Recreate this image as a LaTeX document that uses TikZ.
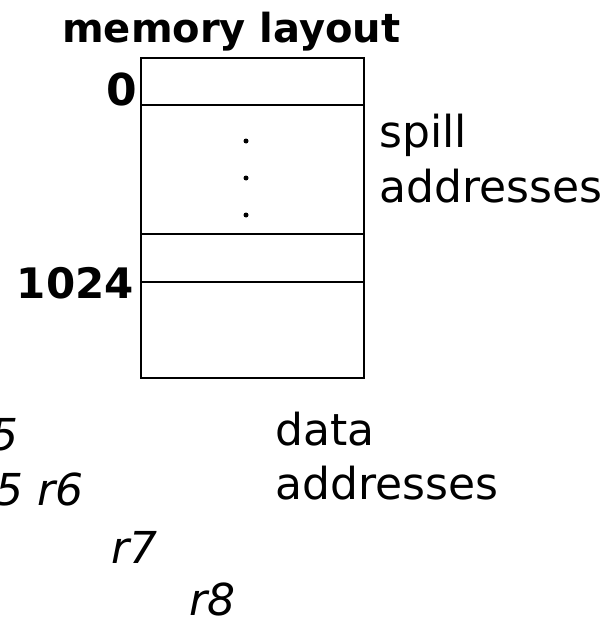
\documentclass[tikz,border=0pt]{standalone}
\usepackage{fontspec}
\setmainfont{DejaVu Sans}
\begin{document}
\begin{tikzpicture}[x=1pt,y=-1pt,
  lbl/.style={inner sep=0pt,font=\fontsize{44}{50}\selectfont},
  bold/.style={inner sep=0pt,font=\fontsize{40}{46}\selectfont\bfseries},
  reg/.style={inner sep=0pt,font=\fontsize{44}{50}\selectfont\itshape},
  cell/.style={draw,line width=1.6pt,inner sep=0pt,minimum width=223pt,anchor=north west},
  dotmark/.style={fill,circle,inner sep=0pt,minimum size=5pt}]
\useasboundingbox (0,0) rectangle (605,623);
\node[bold,anchor=base west] (title) at (62,43) {memory layout};
\node[cell,minimum height=47pt] (c0) at (140,57) {};
\node[cell,minimum height=129pt] (c1) at (140,104) {};
\node[cell,minimum height=48pt] (c2) at (140,233) {};
\node[cell,minimum height=96pt] (c3) at (140,281) {};
\node[dotmark] (d1) at (246,141) {};
\node[dotmark] (d2) at (246,178) {};
\node[dotmark] (d3) at (246,215) {};
\node[bold,font=\fontsize{44}{50}\selectfont\bfseries,anchor=base east] (zero) at (137,106) {0};
\node[bold,font=\fontsize{42}{48}\selectfont\bfseries,anchor=base east] (k) at (134,298) {1024};
\node[lbl,anchor=base west] (spill) at (379,147) {spill};
\node[lbl,anchor=base west] (spilladdr) at (379,202) {addresses};
\node[lbl,anchor=base west] (data) at (275,445) {data};
\node[lbl,anchor=base west] (dataaddr) at (275,499) {addresses};
\node[reg,anchor=base east] (r5a) at (19,450) {5};
\node[reg,anchor=base east] (r5b) at (84,505) {5 r6};
\node[reg,anchor=base west] (r7) at (111,563) {r7};
\node[reg,anchor=base west] (r8) at (189,615) {r8};
\end{tikzpicture}
\end{document}
